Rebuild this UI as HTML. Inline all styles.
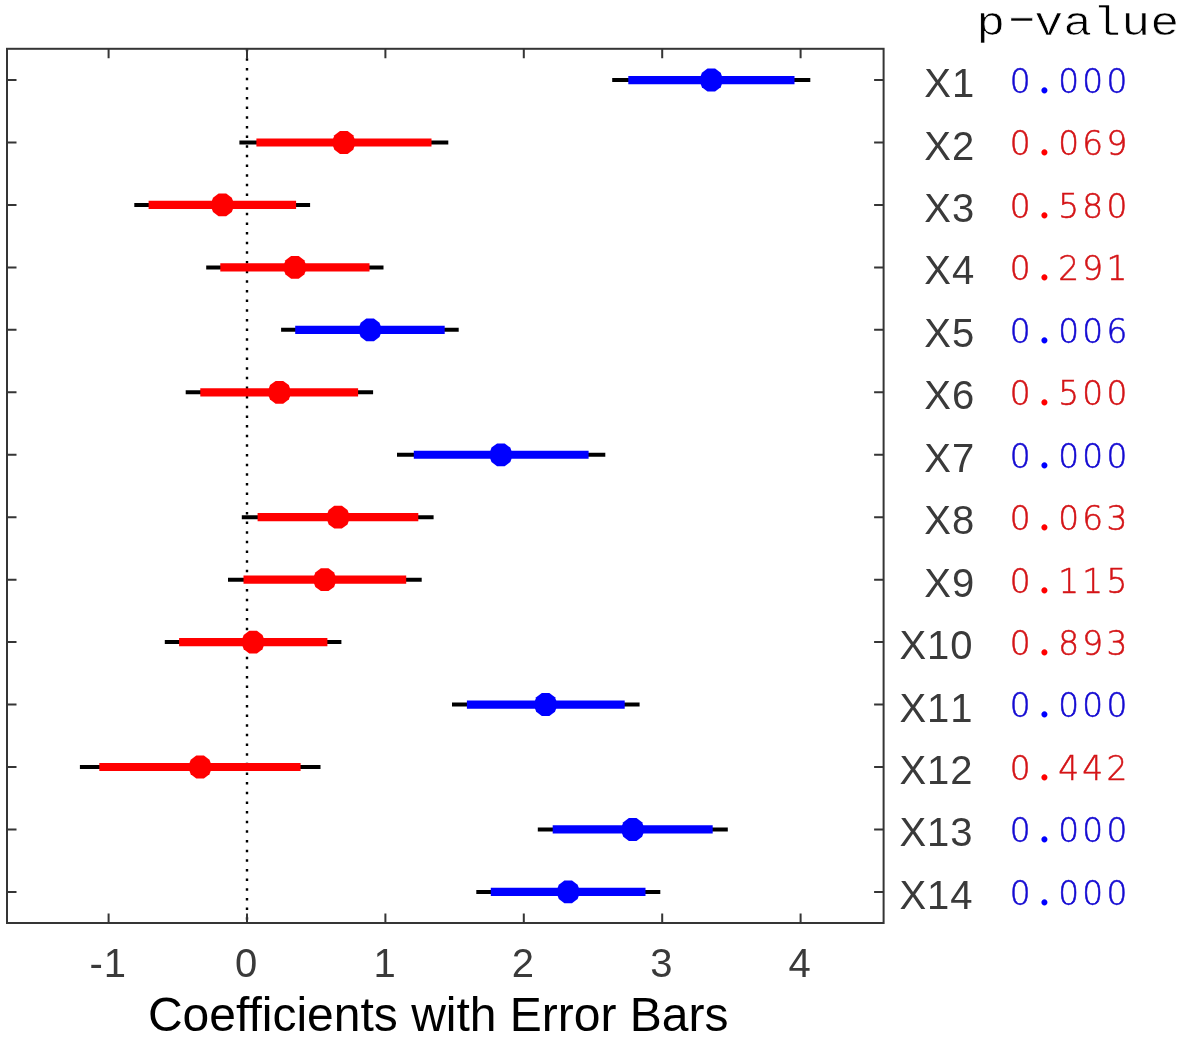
<!DOCTYPE html>
<html><head><meta charset="utf-8"><title>Coefficients with Error Bars</title>
<style>
html,body{margin:0;padding:0;background:#fff;}
svg{display:block;}
.ax{stroke:#353535;stroke-width:2;fill:none;stroke-linecap:butt;}
.sans{font-family:"Liberation Sans",sans-serif;}
.mono{font-family:"Liberation Mono",monospace;}
.tl{font-size:40px;fill:#3a3a3a;font-kerning:none;letter-spacing:1px;}
.xl{font-size:48px;fill:#000;}
.pv{font-family:"DejaVu Sans Light","DejaVu Sans",sans-serif;font-weight:200;font-size:33.8px;text-anchor:middle;stroke-width:0.55px;}
.pv .d{font-family:"Liberation Serif",serif;font-weight:400;font-size:53px;stroke:none;}
.pt{font-size:41px;fill:#000;stroke:#fff;stroke-width:0.7px;}
</style></head><body>
<svg width="1180" height="1039" viewBox="0 0 1180 1039">
<rect x="0" y="0" width="1180" height="1039" fill="#fff"/>
<line x1="247.0" y1="48.7" x2="247.0" y2="923.0" stroke="#000" stroke-width="2.4" stroke-dasharray="2.5 7.15"/>
<line x1="612.2" y1="80.05" x2="810.3" y2="80.05" stroke="#000" stroke-width="4"/><line x1="628.3" y1="80.05" x2="794.5" y2="80.05" stroke="#0000ff" stroke-width="8.2"/><polygon points="707.5,68.6 715.1,68.6 720.7,72.8 721.9,76.1 721.9,84.0 720.7,87.2 715.1,91.5 707.5,91.5 701.9,87.2 700.7,84.0 700.7,76.1 701.9,72.8" fill="#0000ff"/>
<line x1="239.4" y1="142.50" x2="448.3" y2="142.50" stroke="#000" stroke-width="4"/><line x1="256.4" y1="142.50" x2="431.5" y2="142.50" stroke="#ff0000" stroke-width="8.2"/><polygon points="340.0,131.1 347.6,131.1 353.2,135.3 354.4,138.6 354.4,146.4 353.2,149.7 347.6,153.9 340.0,153.9 334.4,149.7 333.2,146.4 333.2,138.6 334.4,135.3" fill="#ff0000"/>
<line x1="134.3" y1="204.95" x2="310.1" y2="204.95" stroke="#000" stroke-width="4"/><line x1="148.6" y1="204.95" x2="296.1" y2="204.95" stroke="#ff0000" stroke-width="8.2"/><polygon points="218.6,193.5 226.2,193.5 231.8,197.8 233.0,201.0 233.0,208.8 231.8,212.1 226.2,216.3 218.6,216.3 213.0,212.1 211.8,208.8 211.8,201.0 213.0,197.8" fill="#ff0000"/>
<line x1="206.2" y1="267.40" x2="383.5" y2="267.40" stroke="#000" stroke-width="4"/><line x1="220.3" y1="267.40" x2="369.5" y2="267.40" stroke="#ff0000" stroke-width="8.2"/><polygon points="291.1,256.0 298.7,256.0 304.3,260.2 305.5,263.5 305.5,271.3 304.3,274.6 298.7,278.8 291.1,278.8 285.5,274.6 284.3,271.3 284.3,263.5 285.5,260.2" fill="#ff0000"/>
<line x1="281.1" y1="329.85" x2="458.7" y2="329.85" stroke="#000" stroke-width="4"/><line x1="295.2" y1="329.85" x2="444.7" y2="329.85" stroke="#0000ff" stroke-width="8.2"/><polygon points="366.3,318.5 373.9,318.5 379.5,322.7 380.7,326.0 380.7,333.8 379.5,337.1 373.9,341.2 366.3,341.2 360.7,337.1 359.5,333.8 359.5,326.0 360.7,322.7" fill="#0000ff"/>
<line x1="185.7" y1="392.30" x2="373.1" y2="392.30" stroke="#000" stroke-width="4"/><line x1="200.3" y1="392.30" x2="358.1" y2="392.30" stroke="#ff0000" stroke-width="8.2"/><polygon points="275.6,380.9 283.2,380.9 288.8,385.1 290.0,388.4 290.0,396.2 288.8,399.5 283.2,403.7 275.6,403.7 270.0,399.5 268.8,396.2 268.8,388.4 270.0,385.1" fill="#ff0000"/>
<line x1="397.0" y1="454.75" x2="605.3" y2="454.75" stroke="#000" stroke-width="4"/><line x1="413.8" y1="454.75" x2="588.6" y2="454.75" stroke="#0000ff" stroke-width="8.2"/><polygon points="497.1,443.4 504.7,443.4 510.3,447.6 511.5,450.9 511.5,458.7 510.3,462.0 504.7,466.2 497.1,466.2 491.5,462.0 490.3,458.7 490.3,450.9 491.5,447.6" fill="#0000ff"/>
<line x1="241.8" y1="517.20" x2="433.6" y2="517.20" stroke="#000" stroke-width="4"/><line x1="257.6" y1="517.20" x2="418.3" y2="517.20" stroke="#ff0000" stroke-width="8.2"/><polygon points="334.3,505.8 341.9,505.8 347.5,510.0 348.7,513.3 348.7,521.1 347.5,524.4 341.9,528.6 334.3,528.6 328.7,524.4 327.5,521.1 327.5,513.3 328.7,510.0" fill="#ff0000"/>
<line x1="228.0" y1="579.65" x2="421.7" y2="579.65" stroke="#000" stroke-width="4"/><line x1="243.5" y1="579.65" x2="406.2" y2="579.65" stroke="#ff0000" stroke-width="8.2"/><polygon points="320.9,568.2 328.5,568.2 334.1,572.4 335.3,575.8 335.3,583.5 334.1,586.9 328.5,591.0 320.9,591.0 315.3,586.9 314.1,583.5 314.1,575.8 315.3,572.4" fill="#ff0000"/>
<line x1="164.8" y1="642.10" x2="341.4" y2="642.10" stroke="#000" stroke-width="4"/><line x1="179.1" y1="642.10" x2="327.4" y2="642.10" stroke="#ff0000" stroke-width="8.2"/><polygon points="249.3,630.7 256.9,630.7 262.5,634.9 263.7,638.2 263.7,646.0 262.5,649.3 256.9,653.5 249.3,653.5 243.7,649.3 242.5,646.0 242.5,638.2 243.7,634.9" fill="#ff0000"/>
<line x1="452.0" y1="704.55" x2="639.6" y2="704.55" stroke="#000" stroke-width="4"/><line x1="466.9" y1="704.55" x2="624.7" y2="704.55" stroke="#0000ff" stroke-width="8.2"/><polygon points="541.8,693.1 549.4,693.1 555.0,697.3 556.2,700.6 556.2,708.4 555.0,711.8 549.4,715.9 541.8,715.9 536.2,711.8 535.0,708.4 535.0,700.6 536.2,697.3" fill="#0000ff"/>
<line x1="79.9" y1="767.00" x2="320.5" y2="767.00" stroke="#000" stroke-width="4"/><line x1="99.3" y1="767.00" x2="300.6" y2="767.00" stroke="#ff0000" stroke-width="8.2"/><polygon points="196.3,755.6 203.9,755.6 209.5,759.8 210.7,763.1 210.7,770.9 209.5,774.2 203.9,778.4 196.3,778.4 190.7,774.2 189.5,770.9 189.5,763.1 190.7,759.8" fill="#ff0000"/>
<line x1="537.8" y1="829.45" x2="727.8" y2="829.45" stroke="#000" stroke-width="4"/><line x1="552.7" y1="829.45" x2="712.7" y2="829.45" stroke="#0000ff" stroke-width="8.2"/><polygon points="628.9,818.1 636.5,818.1 642.1,822.2 643.3,825.6 643.3,833.4 642.1,836.7 636.5,840.9 628.9,840.9 623.3,836.7 622.1,833.4 622.1,825.6 623.3,822.2" fill="#0000ff"/>
<line x1="476.3" y1="891.90" x2="660.3" y2="891.90" stroke="#000" stroke-width="4"/><line x1="490.8" y1="891.90" x2="645.5" y2="891.90" stroke="#0000ff" stroke-width="8.2"/><polygon points="564.4,880.5 572.0,880.5 577.6,884.7 578.8,888.0 578.8,895.8 577.6,899.1 572.0,903.3 564.4,903.3 558.8,899.1 557.6,895.8 557.6,888.0 558.8,884.7" fill="#0000ff"/>
<rect class="ax" x="7.0" y="48.8" width="876.6" height="874.2"/>
<path class="ax" d="M108.6 48.8v9.5M108.6 923.0v-9.5M247.0 48.8v9.5M247.0 923.0v-9.5M385.4 48.8v9.5M385.4 923.0v-9.5M523.8 48.8v9.5M523.8 923.0v-9.5M662.2 48.8v9.5M662.2 923.0v-9.5M800.6 48.8v9.5M800.6 923.0v-9.5M7.0 80.05h9.5M883.6 80.05h-9.5M7.0 142.50h9.5M883.6 142.50h-9.5M7.0 204.95h9.5M883.6 204.95h-9.5M7.0 267.40h9.5M883.6 267.40h-9.5M7.0 329.85h9.5M883.6 329.85h-9.5M7.0 392.30h9.5M883.6 392.30h-9.5M7.0 454.75h9.5M883.6 454.75h-9.5M7.0 517.20h9.5M883.6 517.20h-9.5M7.0 579.65h9.5M883.6 579.65h-9.5M7.0 642.10h9.5M883.6 642.10h-9.5M7.0 704.55h9.5M883.6 704.55h-9.5M7.0 767.00h9.5M883.6 767.00h-9.5M7.0 829.45h9.5M883.6 829.45h-9.5M7.0 891.90h9.5M883.6 891.90h-9.5"/>
<text class="sans tl" x="108.2" y="977.4" text-anchor="middle">-1</text><text class="sans tl" x="246.6" y="977.4" text-anchor="middle">0</text><text class="sans tl" x="385.0" y="977.4" text-anchor="middle">1</text><text class="sans tl" x="523.4" y="977.4" text-anchor="middle">2</text><text class="sans tl" x="661.8" y="977.4" text-anchor="middle">3</text><text class="sans tl" x="800.2" y="977.4" text-anchor="middle">4</text>
<text class="sans xl" x="438.2" y="1031" text-anchor="middle">Coefficients with Error Bars</text>
<text class="sans tl" x="975.2" y="97.05" text-anchor="end">X1</text><text class="pv" transform="translate(1020.3 92.90) scale(0.970 1)" fill="#140ad2" stroke="#140ad2">0<tspan class="d" x="24.90" fill="#0000ff">.</tspan><tspan x="49.79 74.69 99.59">000</tspan></text>
<text class="sans tl" x="975.2" y="159.50" text-anchor="end">X2</text><text class="pv" transform="translate(1020.3 155.35) scale(0.970 1)" fill="#d41417" stroke="#d41417">0<tspan class="d" x="24.90" fill="#ff0000">.</tspan><tspan x="49.79 74.69 99.59">069</tspan></text>
<text class="sans tl" x="975.2" y="221.95" text-anchor="end">X3</text><text class="pv" transform="translate(1020.3 217.80) scale(0.970 1)" fill="#d41417" stroke="#d41417">0<tspan class="d" x="24.90" fill="#ff0000">.</tspan><tspan x="49.79 74.69 99.59">580</tspan></text>
<text class="sans tl" x="975.2" y="284.40" text-anchor="end">X4</text><text class="pv" transform="translate(1020.3 280.25) scale(0.970 1)" fill="#d41417" stroke="#d41417">0<tspan class="d" x="24.90" fill="#ff0000">.</tspan><tspan x="49.79 74.69 99.59">291</tspan></text>
<text class="sans tl" x="975.2" y="346.85" text-anchor="end">X5</text><text class="pv" transform="translate(1020.3 342.70) scale(0.970 1)" fill="#140ad2" stroke="#140ad2">0<tspan class="d" x="24.90" fill="#0000ff">.</tspan><tspan x="49.79 74.69 99.59">006</tspan></text>
<text class="sans tl" x="975.2" y="409.30" text-anchor="end">X6</text><text class="pv" transform="translate(1020.3 405.15) scale(0.970 1)" fill="#d41417" stroke="#d41417">0<tspan class="d" x="24.90" fill="#ff0000">.</tspan><tspan x="49.79 74.69 99.59">500</tspan></text>
<text class="sans tl" x="975.2" y="471.75" text-anchor="end">X7</text><text class="pv" transform="translate(1020.3 467.60) scale(0.970 1)" fill="#140ad2" stroke="#140ad2">0<tspan class="d" x="24.90" fill="#0000ff">.</tspan><tspan x="49.79 74.69 99.59">000</tspan></text>
<text class="sans tl" x="975.2" y="534.20" text-anchor="end">X8</text><text class="pv" transform="translate(1020.3 530.05) scale(0.970 1)" fill="#d41417" stroke="#d41417">0<tspan class="d" x="24.90" fill="#ff0000">.</tspan><tspan x="49.79 74.69 99.59">063</tspan></text>
<text class="sans tl" x="975.2" y="596.65" text-anchor="end">X9</text><text class="pv" transform="translate(1020.3 592.50) scale(0.970 1)" fill="#d41417" stroke="#d41417">0<tspan class="d" x="24.90" fill="#ff0000">.</tspan><tspan x="49.79 74.69 99.59">115</tspan></text>
<text class="sans tl" x="973.6" y="659.10" text-anchor="end">X10</text><text class="pv" transform="translate(1020.3 654.95) scale(0.970 1)" fill="#d41417" stroke="#d41417">0<tspan class="d" x="24.90" fill="#ff0000">.</tspan><tspan x="49.79 74.69 99.59">893</tspan></text>
<text class="sans tl" x="973.6" y="721.55" text-anchor="end">X11</text><text class="pv" transform="translate(1020.3 717.40) scale(0.970 1)" fill="#140ad2" stroke="#140ad2">0<tspan class="d" x="24.90" fill="#0000ff">.</tspan><tspan x="49.79 74.69 99.59">000</tspan></text>
<text class="sans tl" x="973.6" y="784.00" text-anchor="end">X12</text><text class="pv" transform="translate(1020.3 779.85) scale(0.970 1)" fill="#d41417" stroke="#d41417">0<tspan class="d" x="24.90" fill="#ff0000">.</tspan><tspan x="49.79 74.69 99.59">442</tspan></text>
<text class="sans tl" x="973.6" y="846.45" text-anchor="end">X13</text><text class="pv" transform="translate(1020.3 842.30) scale(0.970 1)" fill="#140ad2" stroke="#140ad2">0<tspan class="d" x="24.90" fill="#0000ff">.</tspan><tspan x="49.79 74.69 99.59">000</tspan></text>
<text class="sans tl" x="973.6" y="908.90" text-anchor="end">X14</text><text class="pv" transform="translate(1020.3 904.75) scale(0.970 1)" fill="#140ad2" stroke="#140ad2">0<tspan class="d" x="24.90" fill="#0000ff">.</tspan><tspan x="49.79 74.69 99.59">000</tspan></text>
<text class="mono pt" transform="translate(976.3 35) scale(1.178 1)">p<tspan x="17.6" dy="-5.3" textLength="42" lengthAdjust="spacingAndGlyphs">-</tspan><tspan x="49.2" dy="5.3">value</tspan></text>
</svg>
</body></html>
